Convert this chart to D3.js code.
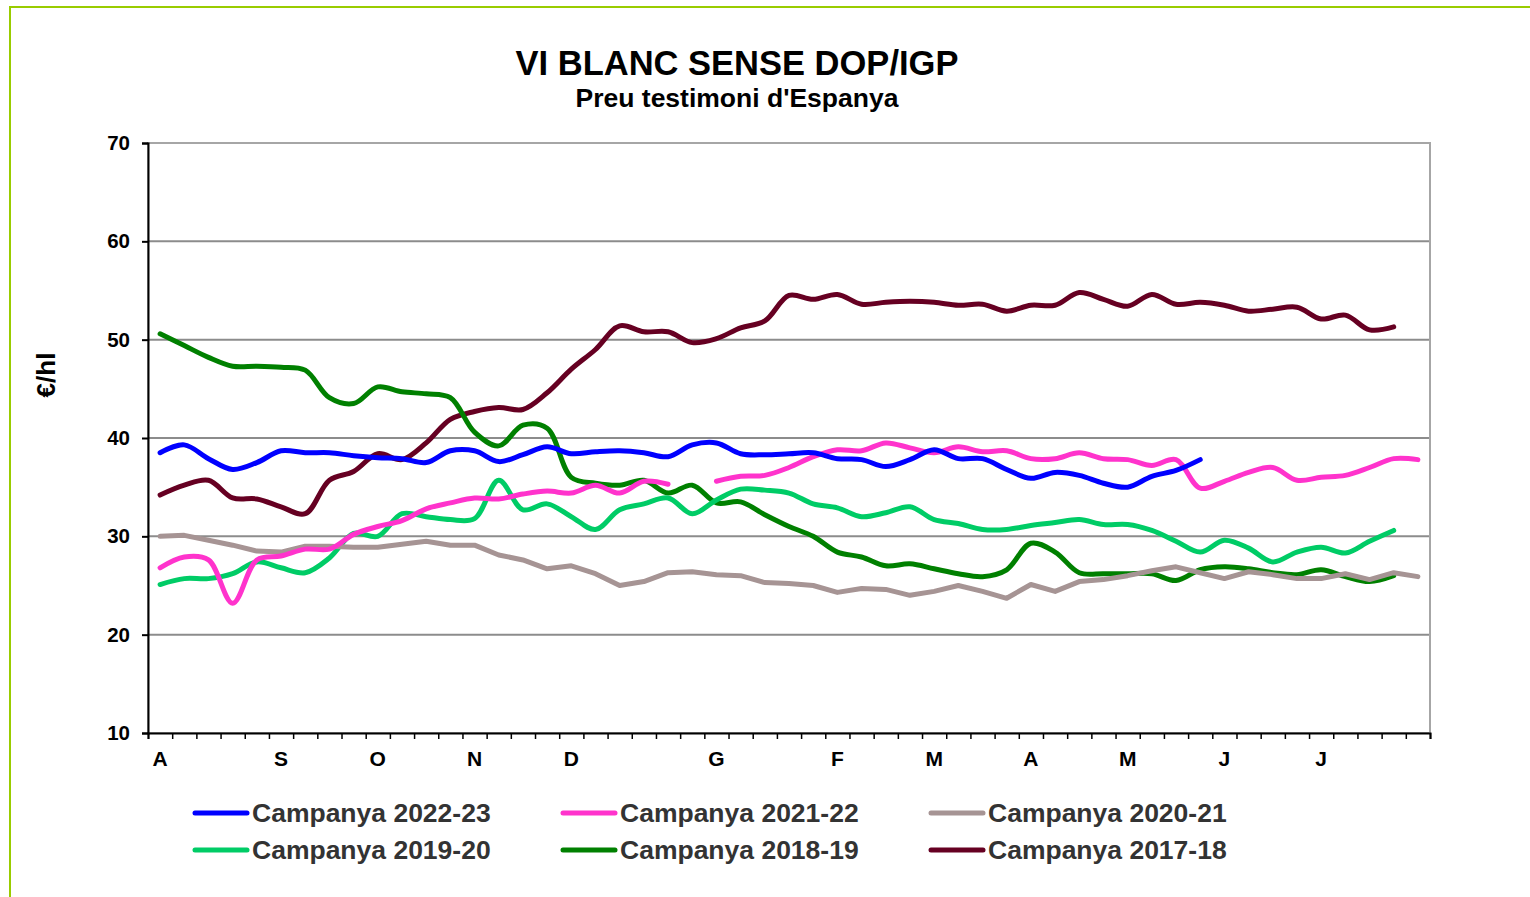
<!DOCTYPE html>
<html>
<head>
<meta charset="utf-8">
<script src="https://cdn.jsdelivr.net/npm/d3@7"></script>
<style>
  body { margin: 0; background: #fff; }
  text { font-family: Arial, "Liberation Sans", sans-serif; font-weight: bold; }
</style>
</head>
<body>
<svg id="chart" width="1530" height="897"></svg>
<script>
// week labels (53 weeks, month initial on the first week)
var weekLabels = ["A","","","","","S","","","","O","","","","N","","","","D","","","","","","G","","","","","F","","","","M","","","","A","","","","M","","","","J","","","","J","","","",""];
var yTicks = [10, 20, 30, 40, 50, 60, 70];

var seriesNames = ["Campanya 2022-23","Campanya 2021-22","Campanya 2020-21","Campanya 2019-20","Campanya 2018-19","Campanya 2017-18"];
var colors = ["#0000ff","#ff33cc","#a69494","#00cc66","#008000","#660022"];

var camp2223 = [38.5,39.3,37.9,36.8,37.5,38.7,38.5,38.5,38.2,38.0,37.9,37.5,38.7,38.7,37.6,38.3,39.1,38.4,38.6,38.7,38.5,38.1,39.3,39.5,38.4,38.3,38.4,38.5,37.9,37.8,37.1,37.8,38.8,37.9,37.9,36.8,35.9,36.5,36.2,35.4,35.0,36.1,36.7,37.8];
var camp2122 = [26.8,27.9,27.6,23.2,27.6,28.0,28.7,28.7,30.2,31.0,31.6,32.8,33.4,33.9,33.8,34.3,34.6,34.4,35.2,34.4,35.6,35.3,null,35.6,36.1,36.2,37.0,38.1,38.8,38.7,39.5,39.0,38.5,39.1,38.6,38.7,37.9,37.9,38.5,37.9,37.8,37.2,37.8,34.9,35.6,36.5,37.0,35.7,36.0,36.2,37.0,37.9,37.8];
var camp2021 = [30.0,30.1,29.6,29.1,28.5,28.4,29.0,29.0,28.9,28.9,29.2,29.5,29.1,29.1,28.1,27.6,26.7,27.0,26.2,25.0,25.4,26.3,26.4,26.1,26.0,25.3,25.2,25.0,24.3,24.7,24.6,24.0,24.4,25.0,24.4,23.7,25.1,24.4,25.4,25.6,26.0,26.5,26.9,26.3,25.7,26.4,26.1,25.7,25.7,26.2,25.6,26.3,25.9];
var camp1920 = [25.1,25.7,25.7,26.2,27.4,26.8,26.3,27.8,30.3,30.0,32.3,32.0,31.7,31.8,35.7,32.7,33.3,32.0,30.7,32.7,33.3,33.9,32.3,33.7,34.8,34.7,34.4,33.3,32.9,32.0,32.4,33.0,31.7,31.3,30.7,30.7,31.1,31.4,31.7,31.2,31.2,30.6,29.5,28.4,29.6,28.8,27.4,28.4,28.9,28.3,29.5,30.6];
var camp1819 = [50.6,49.4,48.2,47.3,47.3,47.2,46.9,44.1,43.5,45.2,44.7,44.5,44.1,40.6,39.2,41.3,41.0,36.0,35.4,35.2,35.7,34.4,35.2,33.4,33.5,32.2,31.0,30.0,28.4,27.9,27.0,27.2,26.7,26.2,25.9,26.6,29.3,28.4,26.3,26.2,26.2,26.2,25.5,26.6,26.9,26.7,26.3,26.1,26.6,25.9,25.4,26.0];
var camp1718 = [34.2,35.2,35.7,33.9,33.8,33.0,32.3,35.7,36.6,38.4,37.8,39.5,41.9,42.7,43.1,42.9,44.6,47.0,49.0,51.4,50.8,50.8,49.7,50.1,51.2,51.9,54.5,54.1,54.6,53.6,53.8,53.9,53.8,53.5,53.6,52.9,53.5,53.5,54.8,54.1,53.4,54.6,53.6,53.8,53.5,52.9,53.1,53.3,52.1,52.5,51.0,51.3];

var allSeries = [camp2223, camp2122, camp2021, camp1920, camp1819, camp1718];

var svg = d3.select("#chart");

var plotLeft = 148, plotRight = 1430, plotTop = 143, plotBottom = 733;

// outer green frame
svg.append("rect")
  .attr("x", 10).attr("y", 7)
  .attr("width", 1540).attr("height", 920)
  .attr("fill", "none")
  .attr("stroke", "#99cc00")
  .attr("stroke-width", 2);

svg.append("text")
  .attr("x", 737).attr("y", 75)
  .attr("text-anchor", "middle")
  .attr("font-size", 34.5)
  .text("VI BLANC SENSE DOP/IGP");

svg.append("text")
  .attr("x", 737).attr("y", 107)
  .attr("text-anchor", "middle")
  .attr("font-size", 26.5)
  .text("Preu testimoni d'Espanya");

var x = d3.scaleBand()
  .domain(d3.range(weekLabels.length))
  .range([plotLeft, plotRight]);

var xEdge = d3.scaleLinear()
  .domain([0, weekLabels.length])
  .range([plotLeft, plotRight]);

var y = d3.scaleLinear()
  .domain([10, 70])
  .range([plotBottom, plotTop]);

// gridlines
svg.append("g").selectAll("line")
  .data(yTicks.slice(1, -1))
  .enter()
  .append("line")
  .attr("x1", plotLeft).attr("x2", plotRight)
  .attr("y1", function(d){ return y(d); })
  .attr("y2", function(d){ return y(d); })
  .attr("stroke", "#8c8c8c")
  .attr("stroke-width", 2);

// plot border (top / right)
svg.append("rect")
  .attr("x", plotLeft).attr("y", plotTop)
  .attr("width", plotRight - plotLeft).attr("height", plotBottom - plotTop)
  .attr("fill", "none")
  .attr("stroke", "#a6a6a6")
  .attr("stroke-width", 2);

// y axis
var yAxis = svg.append("g")
  .attr("transform", "translate(" + plotLeft + ",0)")
  .call(d3.axisLeft(y).tickValues(yTicks).tickSize(6).tickPadding(12));
yAxis.select(".domain").attr("stroke", "#000").attr("stroke-width", 2);
yAxis.selectAll(".tick line").attr("stroke", "#000").attr("stroke-width", 2);
yAxis.selectAll(".tick text")
  .attr("font-size", 20.5)
  .attr("font-family", "Arial, 'Liberation Sans', sans-serif")
  .attr("font-weight", "bold")
  .attr("fill", "#000");

// x axis: tick marks between weeks
var xTicks = svg.append("g")
  .attr("transform", "translate(0," + plotBottom + ")")
  .call(d3.axisBottom(xEdge).tickValues(d3.range(weekLabels.length + 1)).tickFormat("").tickSize(6));
xTicks.select(".domain").attr("stroke", "#000").attr("stroke-width", 2);
xTicks.selectAll(".tick line").attr("stroke", "#000").attr("stroke-width", 1.5);

// x axis: month labels under the weeks
var xLabels = svg.append("g")
  .attr("transform", "translate(0," + plotBottom + ")")
  .call(d3.axisBottom(x).tickFormat(function(d){ return weekLabels[d]; }).tickSize(0).tickPadding(18));
xLabels.select(".domain").remove();
xLabels.selectAll(".tick text")
  .attr("font-size", 21)
  .attr("font-family", "Arial, 'Liberation Sans', sans-serif")
  .attr("font-weight", "bold")
  .attr("fill", "#000");

svg.append("text")
  .attr("transform", "translate(55,375) rotate(-90)")
  .attr("text-anchor", "middle")
  .attr("font-size", 26)
  .text("€/hl");

// lines, oldest campaign first so newest is on top
var smooth = d3.line()
  .defined(function(d){ return d != null; })
  .x(function(d,i){ return x(i) + x.bandwidth()/2; })
  .y(function(d){ return y(d); })
  .curve(d3.curveCatmullRom);

var straight = d3.line()
  .defined(function(d){ return d != null; })
  .x(function(d,i){ return x(i) + x.bandwidth()/2; })
  .y(function(d){ return y(d); });

for (var s = allSeries.length - 1; s >= 0; s--) {
  svg.append("path")
    .attr("d", s == 2 ? straight(allSeries[s]) : smooth(allSeries[s]))
    .attr("fill", "none")
    .attr("stroke", colors[s])
    .attr("stroke-width", 5)
    .attr("stroke-linejoin", "round")
    .attr("stroke-linecap", "round");
}

// legend
var legendX = [195, 563, 931];
var legendY = [813, 850];
var legend = svg.append("g").selectAll("g")
  .data(seriesNames)
  .enter()
  .append("g")
  .attr("transform", function(d,i){
    return "translate(" + legendX[i % 3] + "," + legendY[Math.floor(i / 3)] + ")";
  });
legend.append("line")
  .attr("x1", 0).attr("x2", 52)
  .attr("stroke", function(d,i){ return colors[i]; })
  .attr("stroke-width", 5)
  .attr("stroke-linecap", "round");
legend.append("text")
  .attr("x", 57).attr("y", 9)
  .attr("font-size", 26.5)
  .attr("fill", "#333333")
  .text(function(d){ return d; });
</script>
</body>
</html>
